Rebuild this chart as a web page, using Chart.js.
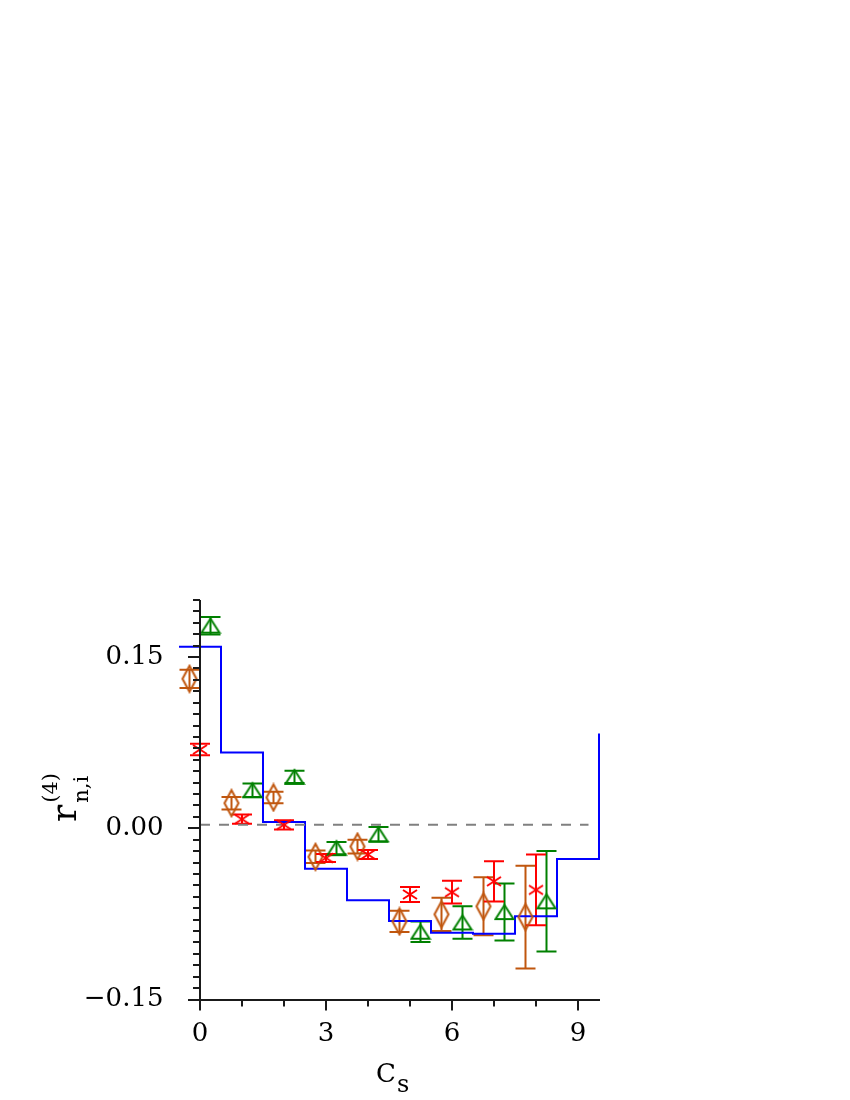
<!DOCTYPE html>
<html>
<head>
<meta charset="utf-8">
<script src="https://cdn.jsdelivr.net/npm/chart.js@4/dist/chart.umd.min.js"></script>
<style>
  body { margin: 0; background: #fff; }
  canvas { display: block; }
</style>
</head>
<body>
<canvas id="chart" width="850" height="1100"></canvas>
<script>
// ---- data ----
const redX = [0, 1, 2, 3, 4, 5, 6, 7, 8];
const redY = [0.069, 0.008, 0.003, -0.026, -0.023, -0.058, -0.056, -0.0465, -0.054];
const redErr = [0.005, 0.004, 0.004, 0.0035, 0.004, 0.0065, 0.01, 0.0177, 0.031];

const brownX = [-0.25, 0.75, 1.75, 2.75, 3.75, 4.75, 5.75, 6.75, 7.75];
const brownY = [0.131, 0.022, 0.027, -0.025, -0.016, -0.0816, -0.0754, -0.0684, -0.0778];
const brownErr = [0.008, 0.0055, 0.005, 0.0055, 0.006, 0.0093, 0.0145, 0.0254, 0.045];

const greenX = [0.25, 1.25, 2.25, 3.25, 4.25, 5.25, 6.25, 7.25, 8.25];
const greenY = [0.1775, 0.0333, 0.045, -0.0174, -0.0053, -0.0906, -0.0825, -0.0734, -0.064];
const greenErr = [0.0077, 0.006, 0.0054, 0.0054, 0.0064, 0.009, 0.0143, 0.025, 0.044];

const stepX = [-0.5, 0.5, 1.5, 2.5, 3.5, 4.5, 5.5, 6.5, 7.5, 8.5, 9.5];
const stepY = [0.159, 0.0664, 0.0055, -0.0354, -0.063, -0.0813, -0.0916, -0.0924, -0.077, -0.027, 0.083];

const refX = [0, 9.25];
const refY = [0.003, 0.003];

const xTickLabels = [0, 3, 6, 9];
const yTickLabels = [-0.15, 0, 0.15];

const RED = '#ff0000';
const BROWN = '#c0560e';
const GREEN = '#008000';
const BLUE = '#0000ff';
const SERIF = "'DejaVu Serif', serif";

const toPts = (xs, ys) => xs.map((x, i) => ({ x: x, y: ys[i] }));

/*------------------marker shapes------------------------*/
function makeMarker(w, h, color, draw) {
    const c = document.createElement('canvas');
    c.width = w;
    c.height = h;
    const g = c.getContext('2d');
    g.strokeStyle = color;
    g.lineWidth = 2;
    g.beginPath();
    draw(g);
    g.stroke();
    return c;
}

const diamond = makeMarker(18, 30, BROWN, g => {
    g.moveTo(9, 2); g.lineTo(16, 15); g.lineTo(9, 28); g.lineTo(2, 15); g.closePath();
});
const triangle = makeMarker(22, 18, GREEN, g => {
    g.moveTo(11, 2); g.lineTo(20, 16); g.lineTo(2, 16); g.closePath();
});
const asterisk = makeMarker(18, 13, RED, g => {
    g.moveTo(2, 2); g.lineTo(16, 11);
    g.moveTo(16, 2); g.lineTo(2, 11);
});

/*------------------error bars, axis ticks and titles------------------------*/
const extras = {
    id: 'extras',
    beforeDatasetsDraw(chart) {
        const ctx = chart.ctx;
        const xs = chart.scales.x, ys = chart.scales.y;
        chart.data.datasets.forEach(ds => {
            if (!ds.errors) return;
            ctx.save();
            ctx.strokeStyle = ds.borderColor;
            ctx.lineWidth = 2;
            ds.data.forEach((p, i) => {
                const px = xs.getPixelForValue(p.x);
                const top = ys.getPixelForValue(p.y + ds.errors[i]);
                const bot = ys.getPixelForValue(p.y - ds.errors[i]);
                ctx.beginPath();
                ctx.moveTo(px, top); ctx.lineTo(px, bot);
                ctx.moveTo(px - 10, top); ctx.lineTo(px + 10, top);
                ctx.moveTo(px - 10, bot); ctx.lineTo(px + 10, bot);
                ctx.stroke();
            });
            ctx.restore();
        });
    },
    afterDraw(chart) {
        const ctx = chart.ctx;
        const xs = chart.scales.x, ys = chart.scales.y;
        const area = chart.chartArea;
        const x0 = xs.getPixelForValue(0);
        ctx.save();
        ctx.strokeStyle = '#1a1a1a';
        ctx.lineWidth = 2;
        ctx.beginPath();
        // y axis sits at x = 0
        ctx.moveTo(x0, area.top);
        ctx.lineTo(x0, area.bottom);
        for (let v = -15; v <= 20; v++) {
            const py = Math.round(ys.getPixelForValue(v / 100));
            const len = v % 15 === 0 ? 12 : 7;
            ctx.moveTo(x0 - len, py);
            ctx.lineTo(x0, py);
        }
        for (let i = 0; i <= 9; i++) {
            const px = Math.round(xs.getPixelForValue(i));
            const len = i % 3 === 0 ? 11 : 7;
            ctx.moveTo(px, area.bottom);
            ctx.lineTo(px, area.bottom + len);
        }
        ctx.stroke();

        // axis titles
        ctx.fillStyle = '#000';
        ctx.textAlign = 'left';
        ctx.textBaseline = 'alphabetic';
        ctx.font = '26px ' + SERIF;
        ctx.fillText('C', 376, 1082);
        const cw = ctx.measureText('C').width;
        ctx.font = '24px ' + SERIF;
        ctx.fillText('s', 376 + cw + 1, 1092);

        ctx.translate(76, 822);
        ctx.rotate(-Math.PI / 2);
        ctx.font = '36px ' + SERIF;
        ctx.fillText('r', 0, 0);
        const rw = ctx.measureText('r').width;
        ctx.font = '21px ' + SERIF;
        ctx.fillText('(4)', rw + 2, -19);
        ctx.fillText('n,i', rw + 2, 12);
        ctx.restore();
    }
};

new Chart(document.getElementById('chart'), {
    type: 'scatter',
    data: {
        datasets: [
            {
                type: 'line',
                label: 'step',
                data: toPts(stepX, stepY),
                borderColor: BLUE,
                borderWidth: 2,
                stepped: 'before',
                pointRadius: 0,
                fill: false,
                clip: false,
                order: 5
            },
            {
                type: 'line',
                label: 'zero',
                data: toPts(refX, refY),
                borderColor: '#808080',
                borderWidth: 2,
                borderDash: [10, 9],
                pointRadius: 0,
                fill: false,
                order: 4
            },
            {
                label: 'diamonds',
                data: toPts(brownX, brownY),
                errors: brownErr,
                borderColor: BROWN,
                pointStyle: diamond,
                clip: false,
                order: 3
            },
            {
                label: 'triangles',
                data: toPts(greenX, greenY),
                errors: greenErr,
                borderColor: GREEN,
                pointStyle: triangle,
                clip: false,
                order: 2
            },
            {
                label: 'stars',
                data: toPts(redX, redY),
                errors: redErr,
                borderColor: RED,
                pointStyle: asterisk,
                clip: false,
                order: 1
            }
        ]
    },
    options: {
        responsive: false,
        animation: false,
        devicePixelRatio: 1,
        layout: {
            padding: { left: 69.5, right: 251, top: 600, bottom: 40.5 }
        },
        plugins: {
            legend: { display: false },
            tooltip: { enabled: false }
        },
        scales: {
            x: {
                type: 'linear',
                min: -0.25,
                max: 9.5,
                grid: { display: false, drawTicks: false },
                border: { display: true, color: '#1a1a1a', width: 2 },
                afterBuildTicks: s => { s.ticks = xTickLabels.map(v => ({ value: v })); },
                afterFit: s => { s.height = 60; },
                ticks: {
                    padding: 19,
                    color: '#000',
                    font: { family: SERIF, size: 26 },
                    callback: v => String(v)
                }
            },
            y: {
                type: 'linear',
                min: -0.15,
                max: 0.2,
                position: 'left',
                grid: { display: false, drawTicks: false },
                border: { display: false },
                afterBuildTicks: s => { s.ticks = yTickLabels.map(v => ({ value: v })); },
                afterFit: s => { s.width = 120; },
                ticks: {
                    padding: 26,
                    color: '#000',
                    font: { family: SERIF, size: 26 },
                    callback: v => v.toFixed(2).replace('-', '\u2212')
                }
            }
        }
    },
    plugins: [extras]
});
</script>
</body>
</html>
